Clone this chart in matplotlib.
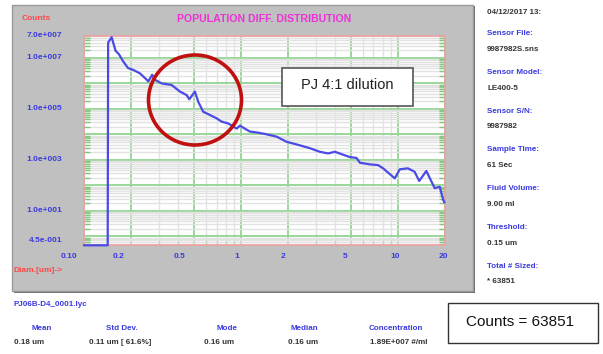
import numpy as np
import matplotlib
matplotlib.use("Agg")
import matplotlib.pyplot as plt
from matplotlib.patches import Rectangle, Ellipse
from matplotlib.ticker import FixedLocator, NullFormatter, LogLocator
import matplotlib.transforms as mtransforms

# particle diameter (um) and counts
diam = [0.100, 0.1416, 0.1425, 0.150, 0.159, 0.167, 0.178, 0.191, 0.206, 0.227,
        0.251, 0.257, 0.272, 0.283, 0.313, 0.362, 0.409, 0.451, 0.469, 0.509,
        0.535, 0.575, 0.635, 0.700, 0.753, 0.830, 0.940, 0.986, 1.14, 1.26,
        1.42, 1.69, 1.95, 2.32, 2.75, 3.18, 3.60, 3.97, 4.94, 5.46,
        5.73, 6.63, 7.49, 8.06, 9.57, 10.3, 11.6, 12.8, 13.7, 15.2,
        17.2, 18.5, 19.5, 19.8]
counts = [0.45, 0.45, 4.0e7, 6.5e7, 1.9e7, 1.4e7, 7.2e6, 4.0e6, 3.4e6, 2.5e6,
          1.4e6, 1.2e6, 2.2e6, 1.4e6, 1.0e6, 8.7e5, 4.8e5, 3.5e5, 2.4e5, 4.8e5,
          1.9e5, 7.8e4, 5.8e4, 4.3e4, 3.2e4, 2.7e4, 1.7e4, 2.2e4, 1.3e4, 1.2e4,
          1.05e4, 8.2e3, 5.2e3, 3.9e3, 2.9e3, 2.1e3, 1.8e3, 2.1e3, 1.3e3, 1.2e3,
          780, 670, 630, 470, 190, 430, 470, 345, 150, 370,
          78, 89, 27, 22]

x_ticks = [0.1, 0.2, 0.5, 1, 2, 5, 10, 20]
x_labels = ["0.10", "0.2", "0.5", "1", "2", "5", "10", "20"]
y_ticks = [7e7, 1e7, 1e5, 1e3, 1e1, 0.45]
y_labels = ["7.0e+007", "1.0e+007", "1.0e+005", "1.0e+003", "1.0e+001", "4.5e-001"]

info_labels = ["Sensor File:", "Sensor Model:", "Sensor S/N:", "Sample Time:",
               "Fluid Volume:", "Threshold:", "Total # Sized:"]
info_values = ["9987982S.sns", "LE400-5", "9987982", "61 Sec",
               "9.00 ml", "0.15 um", "* 63851"]

stat_labels = ["Mean", "Std Dev.", "Mode", "Median", "Concentration"]
stat_values = ["0.18 um", "0.11 um [ 61.6%]", "0.16 um", "0.16 um", "1.89E+007 #/ml"]

W, H = 603, 354
BLUE = "#3a3adf"
FONT = "Liberation Sans"


def fx(x):
    return x / W


def fy(y):
    return 1 - y / H


fig = plt.figure(figsize=(W / 100, H / 100), dpi=100)
fig.patch.set_facecolor("white")

# gray instrument panel
fig.add_artist(Rectangle((fx(14), fy(293)), (475 - 14) / W, (293 - 6) / H,
                         transform=fig.transFigure, facecolor="#6e6e6e",
                         edgecolor="none", zorder=-3))
fig.add_artist(Rectangle((fx(12), fy(291)), (473 - 12) / W, (291 - 5) / H,
                         transform=fig.transFigure, facecolor="#c0c0c0",
                         edgecolor="#9a9a9a", lw=1, zorder=-2))

ax = fig.add_axes([fx(84), fy(245.3), (445 - 84) / W, (245.3 - 36.4) / H])
ax.set_facecolor("white")
ax.set_xscale("log")
ax.set_yscale("log")
ax.set_xlim(0.1, 20)
ax.set_ylim(0.45, 7e7)

ax.xaxis.set_major_locator(FixedLocator(x_ticks))
ax.xaxis.set_minor_locator(LogLocator(base=10, subs=np.arange(2, 10)))
ax.yaxis.set_major_locator(FixedLocator([10.0 ** k for k in range(0, 8)]))
ax.yaxis.set_minor_locator(LogLocator(base=10, subs=np.arange(2, 10), numticks=20))
for axis in (ax.xaxis, ax.yaxis):
    axis.set_major_formatter(NullFormatter())
    axis.set_minor_formatter(NullFormatter())

ax.grid(True, which="minor", color="#e2e2e2", lw=1.0)
ax.grid(True, which="major", color="#9ad69a", lw=1.4)
ax.set_axisbelow(True)
ax.tick_params(which="both", direction="in", color="#7cc87c",
               left=True, right=True, bottom=True, top=False)
ax.tick_params(which="major", length=0)
ax.tick_params(which="minor", length=4, width=1)
for s in ax.spines.values():
    s.set_color("#f0a0a0")
    s.set_linewidth(1.2)

ax.plot(diam, counts, color="#4a4ae6", lw=1.6, clip_on=False, zorder=3)

# tick labels as drawn by the instrument software
x_shift = [-15, -13, -14, -4, -5, -5, -3, -2]
for v, lab, dx in zip(x_ticks, x_labels, x_shift):
    tr = ax.get_xaxis_transform() + mtransforms.ScaledTranslation(dx / 100, 0, fig.dpi_scale_trans)
    ax.text(v, -0.055, lab, transform=tr, ha="center", va="center",
            fontsize=6, fontweight="bold", color=BLUE, family=FONT)
y_shift = [1, 0, 0, 0, 0, 5]
for v, lab, dy in zip(y_ticks, y_labels, y_shift):
    tr = ax.get_yaxis_transform() + mtransforms.ScaledTranslation(0, dy / 100, fig.dpi_scale_trans)
    ax.text(-0.06, v, lab, transform=tr, ha="right", va="center",
            fontsize=6, fontweight="bold", color=BLUE, family=FONT)

fig.text(fx(22), fy(19), "Counts", ha="left", va="center", fontsize=6,
         fontweight="bold", color="#ff4848", family=FONT)
fig.text(fx(264), fy(19), "POPULATION DIFF. DISTRIBUTION", ha="center", va="center",
         fontsize=7.6, fontweight="bold", color="#ee30d8", family=FONT)
fig.text(fx(14), fy(270), "Diam.[um]->", ha="left", va="center", fontsize=6,
         fontweight="bold", color="#ff4848", family=FONT)

# annotation: red circle and dilution box
fig.add_artist(Ellipse((fx(195), fy(100)), 93 / W, 90 / H, transform=fig.transFigure,
                       fill=False, edgecolor="#c01010", lw=2.6, zorder=5))
fig.add_artist(Rectangle((fx(282), fy(106)), 131 / W, 38 / H, transform=fig.transFigure,
                         facecolor="white", edgecolor="#555555", lw=1.2, zorder=5))
fig.text(fx(347), fy(85), "PJ 4:1 dilution", ha="center", va="center",
         fontsize=10.5, color="#222222", family=FONT, zorder=6)

# right info column
fig.text(fx(487), fy(12.5), "04/12/2017 13:", ha="left", va="center", fontsize=5.8,
         fontweight="bold", color="#333333", family=FONT)
for i, (lab, val) in enumerate(zip(info_labels, info_values)):
    y0 = 33.5 + i * 38.75
    fig.text(fx(487), fy(y0), lab, ha="left", va="center", fontsize=5.8,
             fontweight="bold", color=BLUE, family=FONT)
    fig.text(fx(487), fy(y0 + 15.8), val, ha="left", va="center", fontsize=5.8,
             fontweight="bold", color="#333333", family=FONT)

# bottom statistics
fig.text(fx(13), fy(305), "PJ06B-D4_0001.lyc", ha="left", va="center", fontsize=5.8,
         fontweight="bold", color=BLUE, family=FONT)
stat_x = [42, 122, 227, 304, 396]
val_x = [29, 120, 219, 303, 399]
for lab, val, xl, xv in zip(stat_labels, stat_values, stat_x, val_x):
    fig.text(fx(xl), fy(328), lab, ha="center", va="center", fontsize=5.8,
             fontweight="bold", color=BLUE, family=FONT)
    fig.text(fx(xv), fy(342), val, ha="center", va="center", fontsize=5.8,
             fontweight="bold", color="#333333", family=FONT)

fig.add_artist(Rectangle((fx(448), fy(343)), 150 / W, 40 / H, transform=fig.transFigure,
                         facecolor="white", edgecolor="#333333", lw=1.0, zorder=5))
fig.text(fx(520), fy(322), "Counts = 63851", ha="center", va="center",
         fontsize=11, color="#111111", family=FONT, zorder=6)

fig.savefig("out.png", dpi=100)
